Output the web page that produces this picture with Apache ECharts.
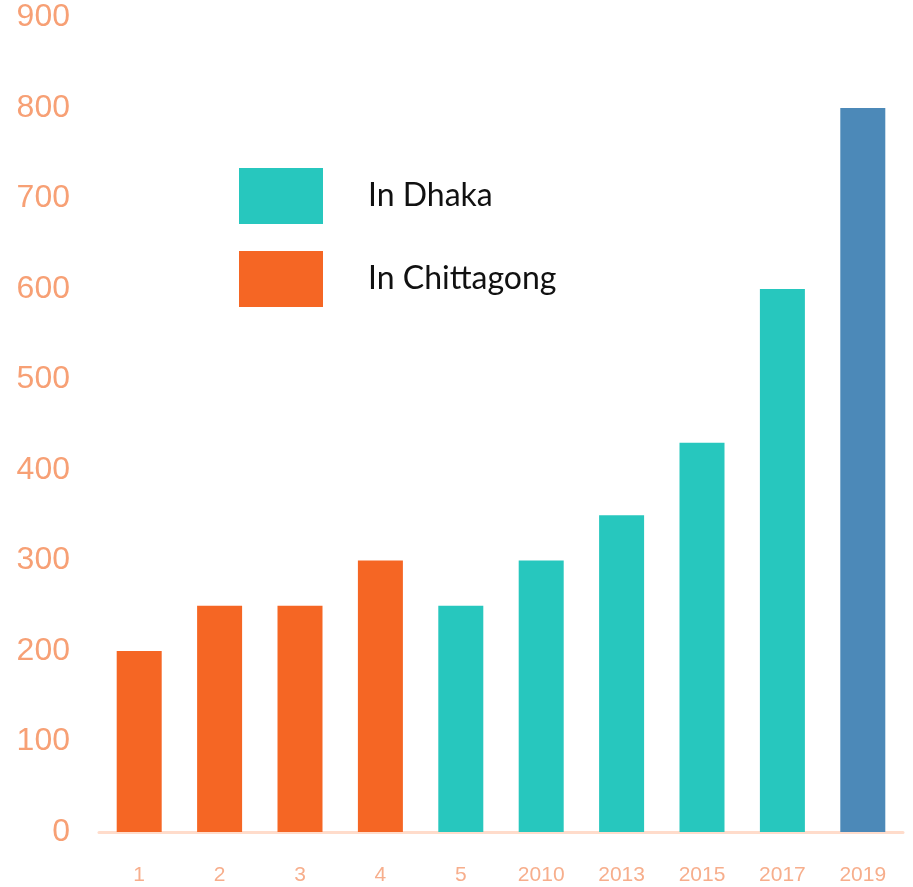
<!DOCTYPE html>
<html>
<head>
<meta charset="utf-8">
<script src="https://cdn.jsdelivr.net/npm/echarts@6/dist/echarts.min.js"></script>
<style>
  html, body { margin: 0; padding: 0; background: #fff; }
  #chart { width: 913px; height: 887px; }
</style>
</head>
<body>
<div id="chart"></div>
<script>
// Category labels along the bottom axis
const categories = ['1', '2', '3', '4', '5', '2010', '2013', '2015', '2017', '2019'];
// Values per category, split by city (null where a bar belongs to another group)
const chittagong = [200, 250, 250, 300, null, null, null, null, null, null];
const dhaka = [null, null, null, null, 250, 300, 350, 430, 600, null];
const latest = [null, null, null, null, null, null, null, null, null, 800];
// Value axis ticks
const yTicks = [0, 100, 200, 300, 400, 500, 600, 700, 800, 900];

const chart = echarts.init(document.getElementById('chart'));
chart.setOption({
  animation: false,
  backgroundColor: '#ffffff',
  grid: { left: 99, right: 10, top: 17.5, bottom: 55, containLabel: false },
  legend: {
    orient: 'vertical',
    left: 239,
    top: 168,
    padding: 0,
    itemWidth: 84,
    itemHeight: 56,
    itemGap: 27,
    icon: 'rect',
    data: ['In Dhaka', 'In Chittagong'],
    textStyle: {
      fontFamily: 'Lato',
      fontSize: 32,
      color: '#111111',
      padding: [0, 0, 0, 40]
    }
  },
  xAxis: {
    type: 'category',
    data: categories,
    axisTick: { show: false },
    axisLine: { lineStyle: { color: '#FFDCCB', width: 3 } },
    axisLabel: { color: '#F7AE8C', fontSize: 21, margin: 33, fontFamily: 'Arial' }
  },
  yAxis: {
    type: 'value',
    min: yTicks[0],
    max: yTicks[yTicks.length - 1],
    interval: 100,
    splitLine: { show: false },
    axisLine: { show: false },
    axisTick: { show: false },
    axisLabel: { color: '#F7A075', fontSize: 32, margin: 29, fontFamily: 'Arial',
      padding: [4, 0, 0, 0] }
  },
  series: [
    { name: 'In Chittagong', type: 'bar', stack: 'all', data: chittagong, barWidth: 45,
      itemStyle: { color: '#F56624' } },
    { name: 'In Dhaka', type: 'bar', stack: 'all', data: dhaka, barWidth: 45,
      itemStyle: { color: '#27C7BE' } },
    { name: '2019', type: 'bar', stack: 'all', data: latest, barWidth: 45,
      itemStyle: { color: '#4C89B8' } }
  ]
});
</script>
</body>
</html>
